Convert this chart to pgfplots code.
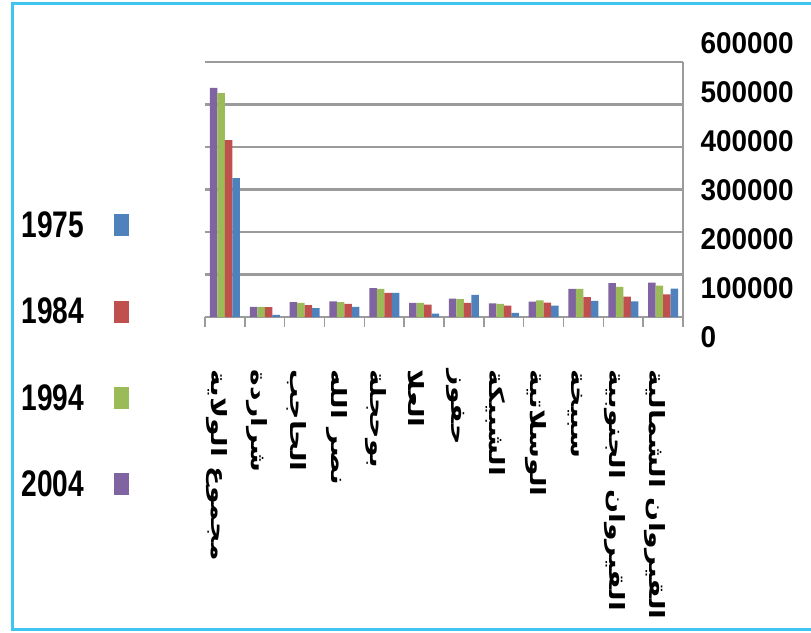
\documentclass[border=0pt]{standalone}
\usepackage{fontspec}
\usepackage{pgfplots}
\pgfplotsset{compat=1.18}
\setmainfont{Liberation Sans}
\newfontfamily\legfont[FakeStretch=0.76]{Liberation Sans}
\newfontfamily\tickfont[FakeStretch=0.93]{Liberation Sans}
\newfontfamily\arabicfont[Script=Arabic, FakeStretch=1.35]{DejaVu Sans}
\TeXXeTstate=1
\definecolor{cA}{HTML}{4F81BD}
\definecolor{cB}{HTML}{C0504D}
\definecolor{cC}{HTML}{9BBB59}
\definecolor{cD}{HTML}{8064A2}
\definecolor{frame}{RGB}{64,196,240}
\definecolor{gridc}{RGB}{155,155,155}

% population by delegation, index 0 = whole governorate
\pgfplotstableread{
x y
0 539000
1 24000
2 35000
3 37000
4 68000
5 33000
6 43000
7 32000
8 36000
9 66000
10 80000
11 81000
}\dataD
\pgfplotstableread{
x y
0 527000
1 24000
2 33000
3 35000
4 66000
5 33000
6 42000
7 31000
8 39000
9 66000
10 71000
11 74000
}\dataC
\pgfplotstableread{
x y
0 416000
1 23000
2 28000
3 31000
4 57000
5 29000
6 33000
7 27000
8 34000
9 47000
10 48000
11 53000
}\dataB
\pgfplotstableread{
x y
0 327000
1 5000
2 21000
3 24000
4 57000
5 8000
6 52000
7 10000
8 27000
9 38000
10 37000
11 67000
}\dataA

\begin{document}
\begin{tikzpicture}
\useasboundingbox (0,0) rectangle (811pt,-632pt);
\draw[frame, line width=3pt] (811pt,-3pt) -- (12pt,-3pt) -- (12pt,-629pt) -- (811pt,-629pt);

\begin{axis}[
  at={(205pt,-317pt)}, anchor=south west,
  scale only axis, width=478pt, height=255pt,
  xmin=-0.5, xmax=11.5, ymin=0, ymax=600000,
  scaled y ticks=false,
  ybar=0pt, bar width=7.5pt,
  axis x line*=bottom, axis y line*=right,
  axis line style={gridc, line width=2pt},
  ytick={0,100000,...,600000}, yticklabels={},
  major y tick style={draw=none},
  ymajorgrids, major grid style={gridc, line width=2.8pt},
  xtick={0,...,11},
  major x tick style={draw=none},
  minor xtick={-0.5,0.5,...,11.5},
  minor x tick style={gridc, line width=1.5pt},
  minor tick length=10pt, tick align=outside,
  xticklabels={
    {\beginR مجموع الولاية\endR},
    {\beginR شراردة\endR},
    {\beginR الحاجب\endR},
    {\beginR نصر الله\endR},
    {\beginR بوحجلة\endR},
    {\beginR العلا\endR},
    {\beginR حفوز\endR},
    {\beginR الشبيكة\endR},
    {\beginR الوسلاتية\endR},
    {\beginR سبيخة\endR},
    {\beginR القيروان  الجنوبية\endR},
    {\beginR القيروان  الشمالية\endR}},
  xticklabel style={xshift=-8pt, rotate=-90, anchor=west, font=\arabicfont\bfseries\fontsize{21}{24}\selectfont},
  xticklabel shift=45pt,
  legend plot pos=right,
  reverse legend,
  legend cell align=left,
  legend image code/.code={\fill[#1] (0pt,-11pt) rectangle (15pt,11pt);},
  legend style={at={(-0.395,0.43)}, anchor=north west, draw=none, fill=none,
    font=\legfont\bfseries\fontsize{37}{40}\selectfont, row sep=55pt,
    /tikz/every odd column/.style={column sep=28pt}},
]
\addplot[fill=cD, draw=none] table {\dataD}; \addlegendentry{2004}
\addplot[fill=cC, draw=none] table {\dataC}; \addlegendentry{1994}
\addplot[fill=cB, draw=none] table {\dataB}; \addlegendentry{1984}
\addplot[fill=cA, draw=none] table {\dataA}; \addlegendentry{1975}
\end{axis}

% value labels of the right-hand scale, set as in the reference
\begin{axis}[
  at={(205pt,-337pt)}, anchor=south west,
  scale only axis, width=478pt, height=294pt,
  xmin=0, xmax=1, ymin=0, ymax=600000,
  scaled y ticks=false,
  hide x axis, axis y line*=right, y axis line style={draw=none},
  ytick={0,100000,...,600000},
  yticklabels={0,100000,200000,300000,400000,500000,600000},
  major tick length=0pt,
  yticklabel style={anchor=west, xshift=14pt, font=\tickfont\bfseries\fontsize{30}{32}\selectfont},
]
\end{axis}
\end{tikzpicture}
\end{document}
